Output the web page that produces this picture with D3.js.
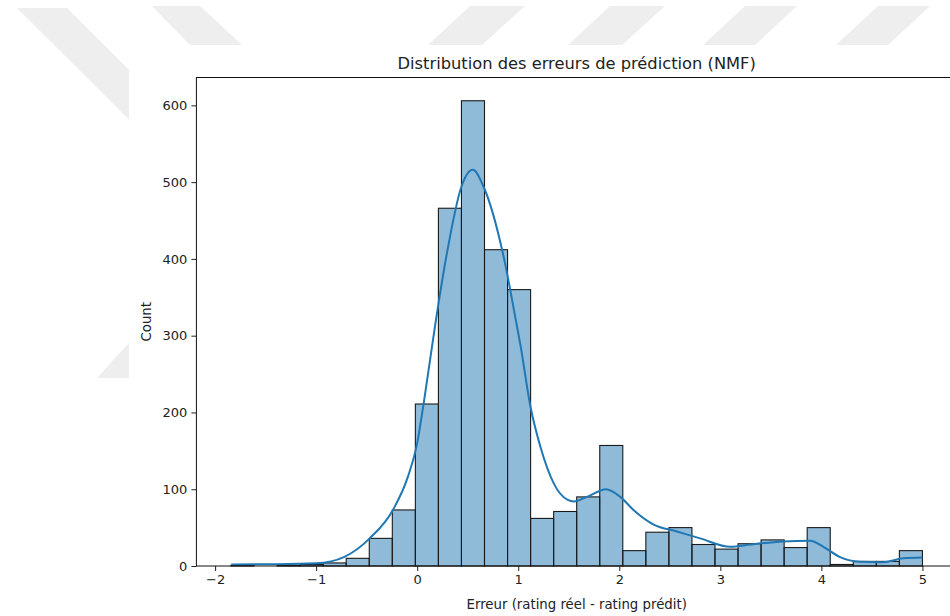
<!DOCTYPE html>
<html>
<head>
<meta charset="utf-8">
<script src="https://cdn.jsdelivr.net/npm/d3@7"></script>
<style>
  body { margin: 0; background: #fff; }
  svg { display: block; font-family: "DejaVu Sans", sans-serif; }
</style>
</head>
<body>
<svg id="chart" width="950" height="616"></svg>
<script>
// histogram: 30 bins between the min and max of the errors
const binMin = -1.843;
const binMax = 5.0;
const counts = [1, 0, 1, 2, 4, 10, 36, 73,
    211, 466, 606, 412, 360, 62, 71, 90, 157, 20, 44, 50, 28,
    22, 29, 34, 24, 50, 2, 6, 6, 20];

// kde curve (x, count)
const kdeX = [-1.84, -1.4, -1.0, -0.72, -0.47, -0.24, -0.09, 0.0, 0.07, 0.186, 0.284, 0.44, 0.55,
    0.66, 0.86, 0.975, 1.024, 1.12, 1.22, 1.35, 1.49, 1.55, 1.68, 1.87, 2.01, 2.14, 2.34, 2.57,
    2.80, 3.10, 3.30, 3.62, 3.89, 4.02, 4.18, 4.38, 4.61, 4.81, 5.0];
const kdeY = [2, 2.3, 3.5, 12, 36, 73, 117, 160, 217, 321, 400, 495, 516,
    493, 400, 321, 286, 208, 155, 108, 86, 84, 90, 100, 90, 73, 54, 45,
    36, 25, 28, 32, 33, 25, 12, 5.6, 5, 10, 11];

const xTicks = [-2, -1, 0, 1, 2, 3, 4, 5];
const yTicks = [0, 100, 200, 300, 400, 500, 600];

const title = 'Distribution des erreurs de prédiction (NMF)';
const xLabel = 'Erreur (rating réel - rating prédit)';
const yLabel = 'Count';

// faint watermark behind the figure
const watermark = [
    [[17, 8], [67, 8], [400, 340], [350, 340]],
    [[97, 378], [200, 265], [250, 265], [250, 378]],
    [[152, 6], [200, 6], [242, 45], [190, 45]],
    [[470, 6], [525, 6], [482, 45], [428, 45]],
    [[610, 6], [665, 6], [622, 45], [568, 45]],
    [[745, 6], [797, 6], [755, 45], [703, 45]],
    [[878, 6], [930, 6], [888, 45], [836, 45]]
];

const svg = d3.select('#chart');

svg.append('g')
    .selectAll('polygon')
    .data(watermark)
    .enter()
    .append('polygon')
    .attr('points', d => d.map(p => p.join(',')).join(' '))
    .attr('fill', '#eeeeee');

svg.append('rect')
    .attr('x', 129).attr('y', 45)
    .attr('width', 950 - 129).attr('height', 616 - 45)
    .attr('fill', '#fff');

const margin = { left: 196.4, top: 77.5, right: 957, bottom: 566 };

const binW = (binMax - binMin) / counts.length;
const bins = counts.map((c, i) => ({ x0: binMin + i * binW, x1: binMin + (i + 1) * binW, count: c }));

const pad = (binMax - binMin) * 0.05;
const x = d3.scaleLinear()
    .domain([binMin - pad, binMax + pad])
    .range([margin.left, margin.right]);

const y = d3.scaleLinear()
    .domain([0, d3.max(counts) * 1.05])
    .range([margin.bottom, margin.top]);

// bars
svg.append('g')
    .selectAll('rect')
    .data(bins)
    .enter()
    .append('rect')
    .attr('x', d => x(d.x0))
    .attr('y', d => y(d.count))
    .attr('width', d => x(d.x1) - x(d.x0))
    .attr('height', d => y(0) - y(d.count))
    .attr('fill', 'rgba(31,119,180,0.5)')
    .attr('stroke', '#1a1a1a')
    .attr('stroke-width', 1.1);

// kde line
const line = d3.line()
    .x(d => x(d[0]))
    .y(d => y(d[1]))
    .curve(d3.curveMonotoneX);

svg.append('path')
    .datum(kdeX.map((v, i) => [v, kdeY[i]]))
    .attr('d', line)
    .attr('fill', 'none')
    .attr('stroke', '#1f77b4')
    .attr('stroke-width', 2);

// axes
const xAxis = svg.append('g')
    .attr('transform', `translate(0,${margin.bottom})`)
    .call(d3.axisBottom(x).tickValues(xTicks).tickSize(5).tickPadding(4)
        .tickFormat(d => d < 0 ? '\u2212' + Math.abs(d) : d));

const yAxis = svg.append('g')
    .attr('transform', `translate(${margin.left},0)`)
    .call(d3.axisLeft(y).tickValues(yTicks).tickSize(5).tickPadding(4));

[xAxis, yAxis].forEach(a => {
    a.selectAll('text').attr('font-size', 13).attr('fill', '#222').attr('font-family', '"DejaVu Sans", sans-serif');
    a.selectAll('line').attr('stroke', '#222');
    a.select('.domain').remove();
});

// spines (right one is outside the window)
svg.append('rect')
    .attr('x', margin.left).attr('y', margin.top)
    .attr('width', margin.right - margin.left).attr('height', margin.bottom - margin.top)
    .attr('fill', 'none')
    .attr('stroke', '#111')
    .attr('stroke-width', 1);

svg.append('text')
    .attr('x', (margin.left + margin.right) / 2)
    .attr('y', 69)
    .attr('text-anchor', 'middle')
    .attr('font-size', 16.3)
    .attr('fill', '#222')
    .text(title);

svg.append('text')
    .attr('x', (margin.left + margin.right) / 2)
    .attr('y', 609)
    .attr('text-anchor', 'middle')
    .attr('font-size', 13.3)
    .attr('fill', '#222')
    .text(xLabel);

svg.append('text')
    .attr('transform', `translate(151,${(margin.top + margin.bottom) / 2}) rotate(-90)`)
    .attr('text-anchor', 'middle')
    .attr('font-size', 13.3)
    .attr('fill', '#222')
    .text(yLabel);
</script>
</body>
</html>
